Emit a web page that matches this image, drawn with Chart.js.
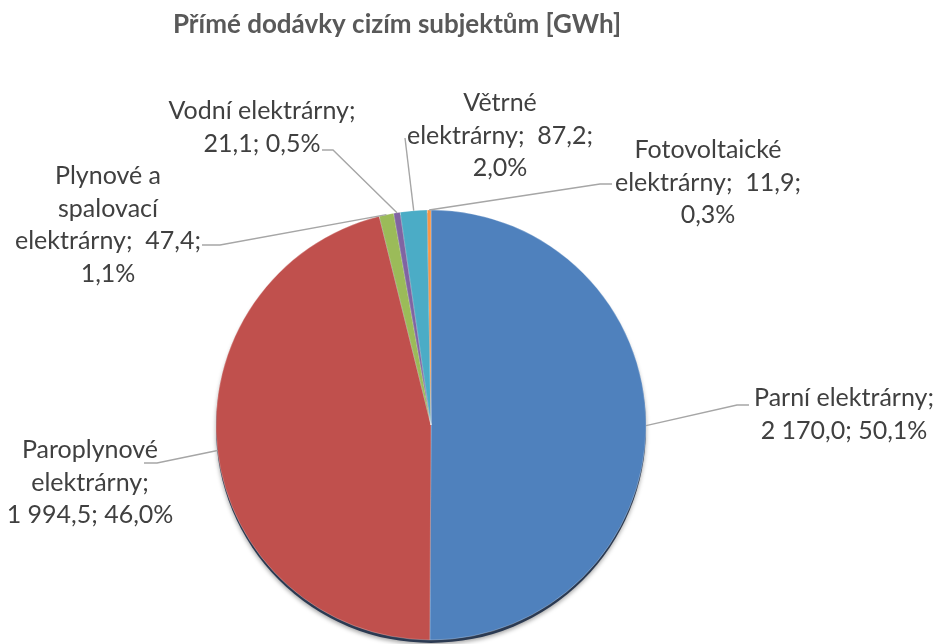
<!DOCTYPE html>
<html><head><meta charset="utf-8">
<script src="https://cdn.jsdelivr.net/npm/chart.js@4/dist/chart.umd.min.js"></script>
<style>html,body{margin:0;padding:0;background:#fff}#wrap{width:937px;height:644px;position:relative}</style>
</head><body><div id="wrap"><canvas id="c" width="937" height="644"></canvas></div>
<script>
const chartTitle = "Přímé dodávky cizím subjektům [GWh]";
const categories = ["Parní elektrárny", "Paroplynové elektrárny", "Plynové a spalovací elektrárny", "Vodní elektrárny", "Větrné elektrárny", "Fotovoltaické elektrárny"];
const values = [2170.0, 1994.5, 47.4, 21.1, 87.2, 11.9];
const colors = ["#4F81BD", "#C0504D", "#9BBB59", "#8064A2", "#4BACC6", "#F79646"];
const labelTemplates = [
  ["Parní elektrárny;", "{v}; {p}"],
  ["Paroplynové", "elektrárny;", "{v}; {p}"],
  ["Plynové a", "spalovací", "elektrárny;  {v};", "{p}"],
  ["Vodní elektrárny;", "{v}; {p}"],
  ["Větrné", "elektrárny;  {v};", "{p}"],
  ["Fotovoltaické", "elektrárny;  {v};", "{p}"]
];

// label placement (layout only)
const labelLayout = [
  {cx: 844, y: 398, elbow: [737, 405], end: [749, 405]},
  {cx: 90,  y: 450, elbow: [157, 463], end: [144, 463]},
  {cx: 108, y: 176, elbow: [220, 245], end: [202, 245]},
  {cx: 262, y: 111, elbow: [333, 150], end: [322, 150]},
  {cx: 500, y: 103, elbow: [405, 138], end: [405, 138]},
  {cx: 708, y: 150, elbow: [600, 184], end: [612, 184]}
];

function fmtNum(v) {
  const s = v.toFixed(1).split('.');
  const int = s[0].replace(/\B(?=(\d{3})+(?!\d))/g, ' ');
  return int + ',' + s[1];
}
const total = values.reduce((a, b) => a + b, 0);
function labelLines(i) {
  const v = fmtNum(values[i]);
  const p = (values[i] / total * 100).toFixed(1).replace('.', ',') + '%';
  return labelTemplates[i].map(t => t.replace('{v}', v).replace('{p}', p));
}

const FONT = "Lato, 'Open Sans', sans-serif";

const shadowPlugin = {
  id: 'pieShadow',
  beforeDatasetsDraw(chart) {
    const arc = chart.getDatasetMeta(0).data[0];
    if (!arc) return;
    const {x, y, outerRadius} = arc.getProps(['x', 'y', 'outerRadius'], true);
    const ctx = chart.ctx;
    ctx.save();
    ctx.shadowColor = 'rgba(0,0,0,0.35)';
    ctx.shadowBlur = 4;
    ctx.shadowOffsetY = 2;
    ctx.beginPath();
    ctx.arc(x, y + 3, outerRadius, 0, Math.PI * 2);
    ctx.fillStyle = '#2b3a52';
    ctx.fill();
    ctx.restore();
  }
};

const labelPlugin = {
  id: 'leaderLabels',
  afterDraw(chart) {
    const ctx = chart.ctx;
    const meta = chart.getDatasetMeta(0);
    ctx.save();
    // title
    ctx.font = "bold 26px " + FONT;
    ctx.fillStyle = '#595959';
    ctx.textAlign = 'center';
    ctx.textBaseline = 'alphabetic';
    ctx.fillText(chartTitle, 397, 33);

    meta.data.forEach((arc, i) => {
      const {x, y, startAngle, endAngle, outerRadius} = arc.getProps(['x', 'y', 'startAngle', 'endAngle', 'outerRadius'], true);
      const mid = (startAngle + endAngle) / 2;
      const px = x + Math.cos(mid) * outerRadius;
      const py = y + Math.sin(mid) * outerRadius;
      const L = labelLayout[i];
      ctx.strokeStyle = '#a6a6a6';
      ctx.lineWidth = 1.4;
      ctx.beginPath();
      ctx.moveTo(px, py);
      ctx.lineTo(L.elbow[0], L.elbow[1]);
      ctx.lineTo(L.end[0], L.end[1]);
      ctx.stroke();

      ctx.font = "25px " + FONT;
      ctx.fillStyle = '#404040';
      ctx.textAlign = 'center';
      ctx.textBaseline = 'middle';
      labelLines(i).forEach((line, k) => {
        ctx.fillText(line, L.cx, L.y + k * 32.5);
      });
    });
    ctx.restore();
  }
};

new Chart(document.getElementById('c'), {
  type: 'pie',
  data: {
    labels: categories,
    datasets: [{
      data: values,
      backgroundColor: colors,
      borderColor: 'rgba(255,255,255,0.5)',
      borderWidth: 0.5
    }]
  },
  options: {
    responsive: false,
    animation: false,
    devicePixelRatio: 1,
    radius: 215,
    layout: {padding: {top: 210, bottom: 4, left: 216, right: 291}},
    plugins: {
      legend: {display: false},
      title: {display: false},
      tooltip: {enabled: false}
    }
  },
  plugins: [shadowPlugin, labelPlugin]
});
</script>
</body></html>
